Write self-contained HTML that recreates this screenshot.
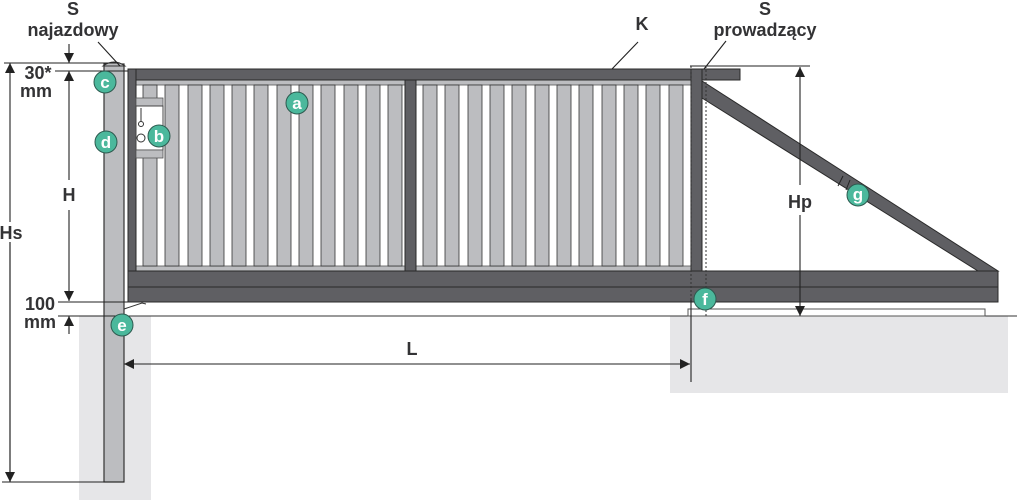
<!DOCTYPE html>
<html><head><meta charset="utf-8"><style>
html,body{margin:0;padding:0;background:#fff;}
svg{display:block;}
text{font-family:"Liberation Sans",sans-serif;font-weight:bold;fill:#333335;}
.c text{fill:#fff;font-size:17px;}
</style></head><body>
<svg width="1017" height="504" viewBox="0 0 1017 504" xmlns="http://www.w3.org/2000/svg">
<defs>
<marker id="ar" viewBox="0 0 10 10" refX="10" refY="5" markerWidth="10" markerHeight="10" markerUnits="userSpaceOnUse" orient="auto"><path d="M0,0 L10,5 L0,10 z" fill="#222"/></marker>
</defs>
<rect x="79" y="316" width="72" height="184" fill="#e6e6e8"/>
<rect x="670" y="316" width="338" height="77" fill="#e6e6e8"/>
<line x1="120" y1="316" x2="1017" y2="316" stroke="#333" stroke-width="1"/>
<rect x="688" y="309" width="297" height="7" fill="#fff" stroke="#555" stroke-width="1"/>
<rect x="104" y="64" width="20" height="418" fill="#bcbdc0" stroke="#333" stroke-width="1.2"/>
<path d="M103,66 Q114,58 125,66 Z" fill="#bcbdc0" stroke="#333"/>
<rect x="136" y="80" width="555" height="191" fill="#fff"/>
<rect x="136" y="80" width="555" height="5" fill="#bcbdc0" stroke="#555" stroke-width="0.8"/>
<rect x="136" y="266" width="555" height="5" fill="#bcbdc0" stroke="#555" stroke-width="0.8"/>
<g fill="#bcbdc0" stroke="#333" stroke-width="0.8">
<rect x="143" y="85" width="14" height="181"/><rect x="165" y="85" width="14" height="181"/><rect x="188" y="85" width="14" height="181"/><rect x="210" y="85" width="14" height="181"/><rect x="232" y="85" width="14" height="181"/><rect x="254" y="85" width="14" height="181"/><rect x="277" y="85" width="14" height="181"/><rect x="299" y="85" width="14" height="181"/><rect x="321" y="85" width="14" height="181"/><rect x="344" y="85" width="14" height="181"/><rect x="366" y="85" width="14" height="181"/><rect x="388" y="85" width="14" height="181"/>
<rect x="423" y="85" width="14" height="181"/><rect x="445" y="85" width="14" height="181"/><rect x="468" y="85" width="14" height="181"/><rect x="490" y="85" width="14" height="181"/><rect x="512" y="85" width="14" height="181"/><rect x="535" y="85" width="14" height="181"/><rect x="557" y="85" width="14" height="181"/><rect x="579" y="85" width="14" height="181"/><rect x="602" y="85" width="14" height="181"/><rect x="624" y="85" width="14" height="181"/><rect x="646" y="85" width="14" height="181"/><rect x="669" y="85" width="14" height="181"/>
</g>
<g fill="#5f5f63" stroke="#2a2a2a" stroke-width="1">
<rect x="128" y="69" width="612" height="11"/>
<rect x="128" y="69" width="8" height="233"/>
<rect x="405" y="80" width="11" height="191"/>
<rect x="691" y="69" width="11" height="202"/>
<polygon points="702,81 702,98 978,271 998,271"/>
<rect x="128" y="271" width="870" height="16"/>
<rect x="128" y="287" width="870" height="15"/>
</g>
<line x1="843" y1="176" x2="838" y2="186" stroke="#222"/><line x1="850" y1="180" x2="846" y2="190" stroke="#222"/>
<line x1="691" y1="66" x2="691" y2="316" stroke="#333" stroke-dasharray="2,2"/>
<line x1="706" y1="66" x2="706" y2="316" stroke="#333" stroke-dasharray="2,2"/>
<rect x="136" y="98" width="27" height="8" fill="#bcbdc0" stroke="#555" stroke-width="0.8"/>
<rect x="136" y="106" width="27" height="44" fill="#fff" stroke="#444"/>
<rect x="136" y="150" width="27" height="8" fill="#bcbdc0" stroke="#555" stroke-width="0.8"/>
<line x1="141" y1="108" x2="141" y2="122" stroke="#333"/><circle cx="141" cy="124" r="2.5" fill="none" stroke="#333"/>
<circle cx="141" cy="138" r="4" fill="none" stroke="#333"/>
<path d="M124,303 L124,309 L142,303 L146,304" fill="none" stroke="#333"/>
<g stroke="#222" stroke-width="1.1" fill="none">
<line x1="4" y1="63" x2="120" y2="63"/>
<line x1="55" y1="71" x2="128" y2="71"/>
<line x1="10" y1="482" x2="10" y2="63" marker-end="url(#ar)"/>
<line x1="10" y1="230" x2="10" y2="482" marker-end="url(#ar)"/>
<line x1="2" y1="482" x2="124" y2="482"/>
<line x1="69" y1="44" x2="69" y2="63" marker-end="url(#ar)"/>
<line x1="69" y1="180" x2="69" y2="71" marker-end="url(#ar)"/>
<line x1="69" y1="210" x2="69" y2="301" marker-end="url(#ar)"/>
<line x1="58" y1="302" x2="128" y2="302"/>
<line x1="58" y1="316" x2="128" y2="316"/>
<line x1="69" y1="334" x2="69" y2="316" marker-end="url(#ar)"/>
<line x1="690" y1="364" x2="124" y2="364" marker-end="url(#ar)"/>
<line x1="124" y1="364" x2="690" y2="364" marker-end="url(#ar)"/>
<line x1="691" y1="300" x2="691" y2="382"/>
<line x1="690" y1="66" x2="810" y2="66"/>
<line x1="800" y1="185" x2="800" y2="67" marker-end="url(#ar)"/>
<line x1="800" y1="215" x2="800" y2="316" marker-end="url(#ar)"/>
<line x1="98" y1="42" x2="120" y2="66"/>
<line x1="638" y1="42" x2="612" y2="69"/>
<line x1="726" y1="41" x2="704" y2="69"/>
</g>
<rect x="395" y="338" width="34" height="20" fill="#fff"/>
<rect x="785" y="188" width="30" height="24" fill="#fff"/>
<rect x="0" y="222" width="26" height="20" fill="#fff"/>
<rect x="58" y="184" width="22" height="22" fill="#fff"/>
<g font-size="18" text-anchor="middle">
<text x="73" y="15">S</text>
<text x="73" y="36">najazdowy</text>
<text x="642" y="30">K</text>
<text x="765" y="15">S</text>
<text x="765" y="36">prowadzący</text>
<text x="38" y="79">30*</text>
<text x="36" y="97">mm</text>
<text x="69" y="201">H</text>
<text x="11" y="239">Hs</text>
<text x="40" y="310">100</text>
<text x="40" y="328">mm</text>
<text x="412" y="355">L</text>
<text x="800" y="208">Hp</text>
</g>
<g class="c" text-anchor="middle">
<g><circle cx="105" cy="82" r="11" fill="#4bb89c" stroke="#2d5a4f"/><text x="105" y="88">c</text></g>
<g><circle cx="106" cy="142" r="11" fill="#4bb89c" stroke="#2d5a4f"/><text x="106" y="148">d</text></g>
<g><circle cx="159" cy="136" r="11" fill="#4bb89c" stroke="#2d5a4f"/><text x="159" y="142">b</text></g>
<g><circle cx="297" cy="103" r="11" fill="#4bb89c" stroke="#2d5a4f"/><text x="297" y="109">a</text></g>
<g><circle cx="122" cy="325" r="11" fill="#4bb89c" stroke="#2d5a4f"/><text x="122" y="331">e</text></g>
<g><circle cx="705" cy="299" r="11" fill="#4bb89c" stroke="#2d5a4f"/><text x="705" y="305">f</text></g>
<g><circle cx="858" cy="195" r="11" fill="#4bb89c" stroke="#2d5a4f"/><text x="858" y="200">g</text></g>
</g>
</svg>
</body></html>
